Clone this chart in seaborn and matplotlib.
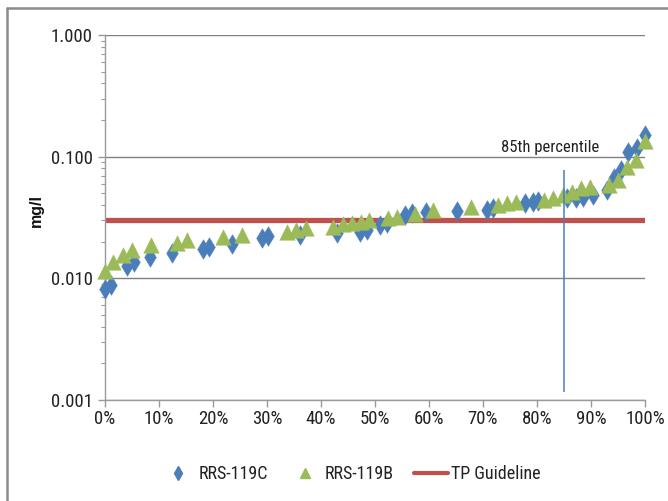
import numpy as np
import pandas as pd
import seaborn as sns
import matplotlib
matplotlib.use("Agg")
import matplotlib.pyplot as plt
from matplotlib import font_manager as fm
from matplotlib.lines import Line2D
from matplotlib.ticker import FixedLocator, FixedFormatter, LogLocator, NullFormatter

# ---- data ----
pct_c = [0.000, 0.011, 0.041, 0.054, 0.083, 0.124, 0.181, 0.193, 0.235, 0.291, 0.302,
         0.361, 0.430, 0.472, 0.485, 0.509, 0.522, 0.556, 0.569, 0.594, 0.652, 0.707,
         0.719, 0.778, 0.793, 0.802, 0.856, 0.872, 0.885, 0.904, 0.930, 0.943, 0.956,
         0.969, 0.985, 1.000]
val_c = [0.0082, 0.0088, 0.0126, 0.0136, 0.0150, 0.0162, 0.0174, 0.0181, 0.0192, 0.0215, 0.0223,
         0.0226, 0.0236, 0.0240, 0.0250, 0.0274, 0.0285, 0.0331, 0.0345, 0.0351, 0.0358, 0.0365,
         0.0379, 0.0417, 0.0426, 0.0434, 0.0458, 0.0458, 0.0467, 0.0485, 0.0532, 0.0670, 0.0778,
         0.109, 0.118, 0.151]

pct_b = [0.000, 0.015, 0.033, 0.050, 0.085, 0.133, 0.152, 0.219, 0.254, 0.337, 0.354,
         0.372, 0.422, 0.441, 0.457, 0.474, 0.489, 0.524, 0.541, 0.574, 0.607, 0.678,
         0.728, 0.744, 0.761, 0.813, 0.830, 0.848, 0.865, 0.881, 0.898, 0.933, 0.950,
         0.967, 0.983, 1.000]
val_b = [0.0115, 0.0136, 0.0156, 0.0171, 0.0188, 0.0195, 0.0207, 0.0219, 0.0228, 0.0240, 0.0250,
         0.0260, 0.0264, 0.0280, 0.0285, 0.0291, 0.0302, 0.0313, 0.0320, 0.0338, 0.0365, 0.0386,
         0.0401, 0.0417, 0.0425, 0.0441, 0.0458, 0.0485, 0.0513, 0.0553, 0.0564, 0.0585, 0.0644,
         0.0823, 0.0940, 0.135]

guide_x = [0.0, 1.0]
guide_y = [0.03, 0.03]

p85_x = 0.85
p85_range = [0.00117, 0.078]

x_ticks = [0.0, 0.1, 0.2, 0.3, 0.4, 0.5, 0.6, 0.7, 0.8, 0.9, 1.0]
x_labels = ["0%", "10%", "20%", "30%", "40%", "50%", "60%", "70%", "80%", "90%", "100%"]
y_ticks = [0.001, 0.01, 0.1, 1.0]
y_labels = ["0.001", "0.010", "0.100", "1.000"]

series_names = ["RRS-119C", "RRS-119B", "TP Guideline"]

BLUE = "#4A7EBB"
GREEN = "#9BBB59"
RED = "#C0504D"

# ---- style ----
sns.set_theme(style="white")
available = {f.name for f in fm.fontManager.ttflist}
narrow = None
for cand in ["Liberation Sans Narrow", "Arial Narrow", "Roboto Condensed", "Open Sans Condensed"]:
    if cand in available:
        narrow = cand
        break
if narrow:
    plt.rcParams["font.family"] = [narrow, "Liberation Sans", "DejaVu Sans"]
    TICK_FS, LEG_FS, NOTE_FS = 13.5, 13, 12
else:
    plt.rcParams["font.family"] = ["Liberation Sans", "DejaVu Sans"]
    TICK_FS, LEG_FS, NOTE_FS = 11.5, 11.5, 10.5

fig = plt.figure(figsize=(6.68, 5.01), dpi=100)
ax = fig.add_axes([105 / 668, 1 - 400 / 501, 540 / 668, 365 / 501])

df_c = pd.DataFrame({"pct": pct_c, "val": val_c})
df_b = pd.DataFrame({"pct": pct_b, "val": val_b})
df_g = pd.DataFrame({"pct": guide_x, "val": guide_y})

sns.lineplot(data=df_g, x="pct", y="val", color=RED, linewidth=3.8, ax=ax,
             legend=False, zorder=2)
sns.scatterplot(data=df_c, x="pct", y="val", marker="d", s=100, color=BLUE,
                edgecolor=BLUE, linewidth=0.3, ax=ax, legend=False, zorder=3, clip_on=False)
sns.scatterplot(data=df_b, x="pct", y="val", marker="^", s=125, color=GREEN,
                edgecolor=GREEN, linewidth=0.3, ax=ax, legend=False, zorder=4, clip_on=False)
ax.vlines(p85_x, p85_range[0], p85_range[1], color=BLUE, linewidth=1.1, zorder=5)
ax.text(0.825, 0.104, "85th percentile", ha="center", va="bottom", fontsize=NOTE_FS,
        color="#222222", zorder=6)

ax.set_yscale("log")
ax.set_xlim(0, 1)
ax.set_ylim(0.001, 1.0)

ax.yaxis.set_major_locator(FixedLocator(y_ticks))
ax.yaxis.set_major_formatter(FixedFormatter(y_labels))
ax.yaxis.set_minor_locator(LogLocator(base=10, subs=np.arange(2, 10)))
ax.yaxis.set_minor_formatter(NullFormatter())
ax.xaxis.set_major_locator(FixedLocator(x_ticks))
ax.xaxis.set_major_formatter(FixedFormatter(x_labels))

ax.grid(False)
ax.yaxis.grid(True, which="major", color="#808080", linewidth=1.0, zorder=0)
ax.set_axisbelow(True)

for side in ["top", "right"]:
    ax.spines[side].set_visible(False)
for side in ["left", "bottom"]:
    ax.spines[side].set_color("#9a9a9a")
    ax.spines[side].set_linewidth(1.0)

ax.tick_params(axis="both", which="major", direction="out", length=5, width=1,
               color="#9a9a9a", labelsize=TICK_FS, labelcolor="#222222", pad=4,
               left=True, bottom=True)
ax.tick_params(axis="x", which="major", pad=2)
ax.tick_params(axis="y", which="minor", direction="out", length=3, width=0.8,
               color="#9a9a9a", left=True)

ax.set_xlabel("")
ax.set_ylabel("mg/l", fontsize=11.5, fontweight="bold", family=["Liberation Sans", "DejaVu Sans"],
              color="#111111")
ax.yaxis.set_label_coords(-0.113, 0.52)

handles = [
    Line2D([], [], linestyle="none", marker="d", markersize=7, color=BLUE),
    Line2D([], [], linestyle="none", marker="^", markersize=7, color=GREEN),
    Line2D([], [], color=RED, linewidth=3),
]
fig.legend(handles, series_names, loc="center", bbox_to_anchor=(0.525, 0.054), ncol=3,
           frameon=False, fontsize=LEG_FS, handlelength=1.9, handletextpad=0.15,
           columnspacing=1.1, labelcolor="#222222")

# outer frame lines (left and top) as in the reference
fig.add_artist(Line2D([7 / 668, 7 / 668], [0, 1 - 8 / 501], transform=fig.transFigure,
                      color="#8c8c8c", linewidth=1.8))
fig.add_artist(Line2D([7 / 668, 1], [1 - 8 / 501, 1 - 8 / 501], transform=fig.transFigure,
                      color="#8c8c8c", linewidth=1.8))

fig.savefig("out.png", dpi=100)
